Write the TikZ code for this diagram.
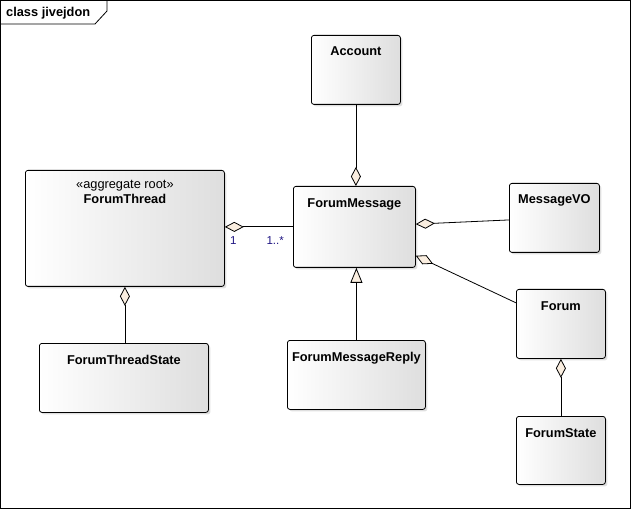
\documentclass[tikz,border=0pt]{standalone}
\usepackage{fontspec}
\setmainfont{Liberation Sans}
\usetikzlibrary{arrows.meta,shadows}
\definecolor{boxgray}{RGB}{222,222,222}
\definecolor{diamondfill}{RGB}{250,238,224}
\definecolor{multblue}{RGB}{30,20,130}

\begin{document}
\begin{tikzpicture}[
  x=1pt, y=-1pt,
  font=\fontsize{12.8}{15}\selectfont,
  uml class/.style={
    draw, line width=0.8pt, rounded corners=2.5pt,
    left color=white, right color=boxgray,
    drop shadow={shadow xshift=2pt, shadow yshift=-2pt, opacity=0.25},
    anchor=north west, inner sep=0pt,
  },
  class name/.style={anchor=base, yshift=-21pt, font=\fontsize{12.8}{15}\selectfont\bfseries},
  aggregation/.style={line width=0.8pt, -{Diamond[fill=diamondfill, length=19pt, width=10pt]}},
  generalization/.style={line width=0.8pt, -{Triangle[fill=diamondfill, length=15pt, width=12pt]}},
  mult/.style={text=multblue, font=\fontsize{11.5}{13}\selectfont, inner sep=0pt},
  ]
  \useasboundingbox (0,0) rectangle (631,510);
  % frame
  \draw[line width=1pt] (0.5,0.5) rectangle (630,508.5);
  \draw[line width=0.8pt] (0.5,24) -- (95,24) -- (107,11) -- (107,0.5);
  \node[anchor=base west, inner sep=0pt, font=\fontsize{12.8}{15}\selectfont\bfseries] (frame title) at (6,17) {class jivejdon};
  % classes
  \node[uml class, minimum width=89pt, minimum height=69pt, label={[class name]north:Account}] (account) at (311,35) {};
  \node[uml class, minimum width=122pt, minimum height=81pt, label={[class name, yshift=-1pt]north:ForumMessage}] (fmsg) at (293,186) {};
  \node[uml class, minimum width=199pt, minimum height=116pt,
    label={[class name, yshift=2pt, font=\fontsize{12.8}{15}\selectfont]north:«aggregate root»},
    label={[class name, yshift=-13pt]north:ForumThread}] (fthread) at (25,170) {};
  \node[uml class, minimum width=169pt, minimum height=69pt, label={[class name]north:ForumThreadState}] (ftstate) at (39,343) {};
  \node[uml class, minimum width=90pt, minimum height=69pt, label={[class name]north:MessageVO}] (msgvo) at (509,183) {};
  \node[uml class, minimum width=89pt, minimum height=69pt, label={[class name]north:Forum}] (forum) at (516,289) {};
  \node[uml class, minimum width=138pt, minimum height=69pt, label={[class name]north:ForumMessageReply}] (freply) at (287,340) {};
  \node[uml class, minimum width=89pt, minimum height=68pt, label={[class name]north:ForumState}] (fstate) at (516,416) {};
  % relations
  \coordinate (fthread end) at (fmsg.west -| fthread.east);
  \draw[aggregation] (account.south) -- (account.south |- fmsg.north);
  \draw[aggregation] (fmsg.west) -- (fthread end);
  \node[mult, anchor=base east] (mult fmsg) at ([xshift=-9pt, yshift=-17.5pt]fmsg.west) {1..*};
  \node[mult, anchor=base west] (mult fthread) at ([xshift=5pt, yshift=-17.5pt]fthread end) {1};
  \draw[aggregation] (msgvo) -- (fmsg);
  \draw[aggregation] (forum) -- (fmsg);
  \draw[generalization] (freply.north) -- (freply.north |- fmsg.south);
  \draw[aggregation] (fthread.south |- ftstate.north) -- (fthread.south);
  \draw[aggregation] (fstate) -- (forum);
\end{tikzpicture}
\end{document}
